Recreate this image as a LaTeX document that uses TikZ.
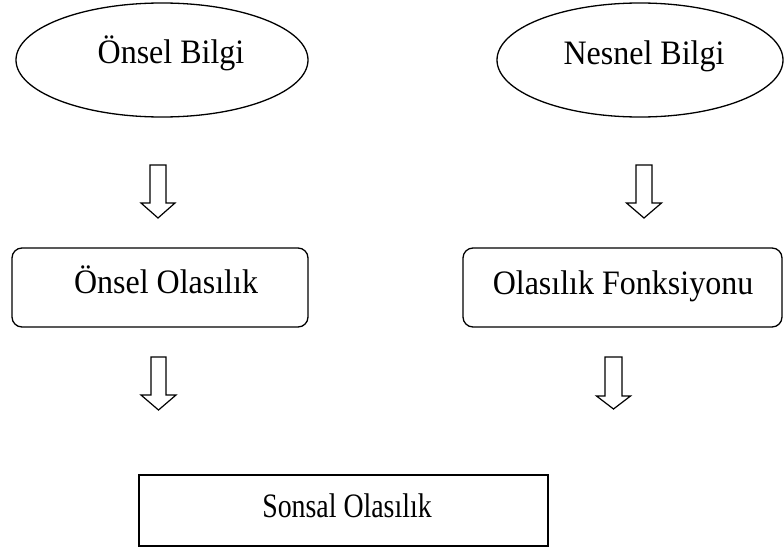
\documentclass[tikz,border=0pt]{standalone}
\usepackage{fontspec}
\usepackage{graphicx}
\setmainfont{Liberation Serif}
\usetikzlibrary{shapes.geometric}
\tikzset{
  lbl/.style={anchor=base, inner sep=0pt, font=\fontsize{32}{38}\selectfont},
  ell/.style={draw, ellipse, line width=1.3pt, inner sep=0pt},
  rbox/.style={draw, rectangle, rounded corners=10pt, line width=1.3pt, inner sep=0pt},
  sbox/.style={draw, rectangle, line width=1.5pt, inner sep=0pt},
  harrow/.style={draw, line width=1.2pt, fill=white, line join=miter},
}
\newcommand{\tallt}[2][1]{\scalebox{#1}[1.07]{#2}}
% hollow down arrow: #1 = x centre, #2 shaft half width, #3 head half width, #4 top y, #5 head y, #6 tip y
\newcommand{\hollowdown}[6]{%
  \draw[harrow] (#1-#2,#4) -- (#1+#2,#4) -- (#1+#2,#5) -- (#1+#3,#5) -- (#1,#6)
    -- (#1-#3,#5) -- (#1-#2,#5) -- cycle;
}
\begin{document}
\begin{tikzpicture}[x=1pt,y=-1pt]
\useasboundingbox (0,0) rectangle (784,549);
% ellipses
\node[ell, minimum width=292pt, minimum height=114pt] (e1) at (162,60) {};
\node[ell, minimum width=286pt, minimum height=114pt] (e2) at (640,60) {};
\node[lbl] (t1) at (171,63) {\tallt{Önsel Bilgi}};
\node[lbl] (t2) at (644,64) {\tallt{Nesnel Bilgi}};
% rounded boxes
\node[rbox, minimum width=296pt, minimum height=79pt] (b1) at (160,287.5) {};
\node[rbox, minimum width=319pt, minimum height=79pt] (b2) at (622.5,287.5) {};
\node[lbl] (t3) at (166,293) {\tallt{Önsel Olasılık}};
\node[lbl] (t4) at (623,294) {\tallt{Olasılık Fonksiyonu}};
% bottom box
\node[sbox, minimum width=409pt, minimum height=71pt] (b3) at (343.5,510.5) {};
\node[lbl] (t5) at (347,517) {\tallt[0.87]{Sonsal Olasılık}};
% hollow arrows
\hollowdown{158}{8}{17}{165}{203}{218}
\hollowdown{644}{8}{17.5}{165}{203}{218}
\hollowdown{158.5}{7.5}{17.5}{357}{395}{410}
\hollowdown{613.5}{8.5}{17}{357}{396}{409}
\end{tikzpicture}
\end{document}
